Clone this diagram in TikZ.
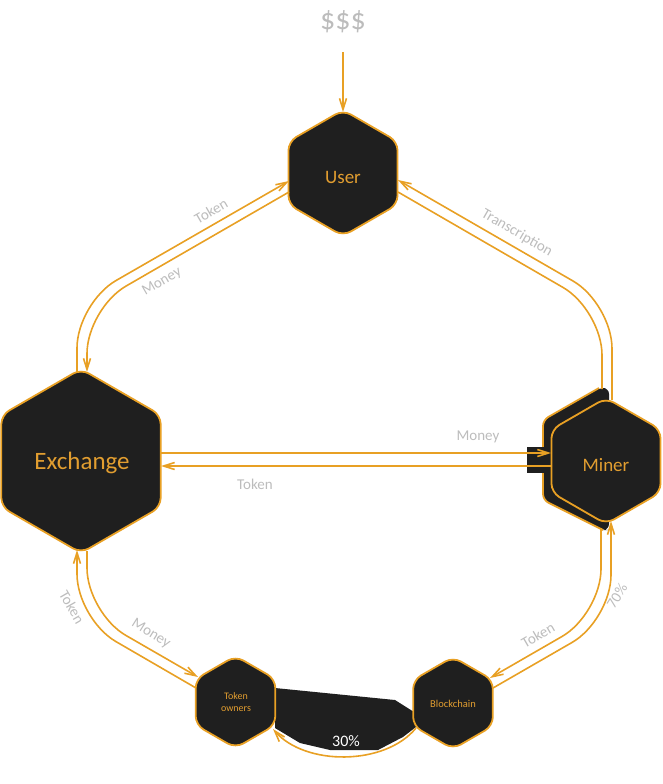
\documentclass[tikz,border=0pt]{standalone}
\usepackage{fontspec}
\setmainfont{Carlito}
\usetikzlibrary{arrows.meta,calc}
\definecolor{org}{RGB}{232,160,36}
\definecolor{hexfill}{RGB}{31,31,31}
\definecolor{hextext}{RGB}{226,158,48}
\definecolor{lbl}{RGB}{188,188,188}
\tikzset{
 hexshape/.style={draw=org, line width=1.8pt, fill=hexfill, rounded corners=9pt},
 hextxt/.style={text=hextext, inner sep=0pt, align=center},
 conn/.style={draw=org, line width=1.6pt, rounded corners=45pt},
 arr/.style={-{Straight Barb[length=11pt,width=7pt]}},
 lab/.style={text=lbl, font=\fontsize{15}{15}\selectfont, inner sep=0pt},
}
\newcommand\drawhex[3]{\path[hexshape] ({#1+#3*0.866},#2) -- ({#1+#3*0.866},{#2-#3/2}) -- (#1,{#2-#3}) -- ({#1-#3*0.866},{#2-#3/2}) -- ({#1-#3*0.866},{#2+#3/2}) -- (#1,{#2+#3}) -- ({#1+#3*0.866},{#2+#3/2}) -- cycle;}
\begin{document}
\begin{tikzpicture}[x=1pt,y=-1pt]
\useasboundingbox (0,0) rectangle (662,784);

% back shape of miner
\fill[hexfill, rounded corners=6pt] (609,388) -- (599,388) -- (543,420) -- (543,500) -- (603,530) -- (609,530) -- cycle;
\draw[org, line width=1.8pt, rounded corners=6pt] (599,388) -- (543,420) -- (543,500) -- (603,530);
\fill[hexfill] (527,447) rectangle (546,473);

% black band between token owners and blockchain
\fill[hexfill] (275,688) -- (395,700) -- (414,712) -- (416,727) -- (403,737) -- (378,750) -- (330,750) -- (300,743) -- (275,728) -- cycle;

% hexagons
\drawhex{343}{173}{63}
\node[hextxt, font=\fontsize{19}{19}\selectfont] (user) at (343,177) {User};
\drawhex{81}{461}{92}
\node[hextxt, font=\fontsize{25}{25}\selectfont] (exchange) at (82,463) {Exchange};
\drawhex{606}{461}{63}
\node[hextxt, font=\fontsize{19}{19}\selectfont] (miner) at (606,465) {Miner};
\drawhex{235.5}{702}{46}
\node[hextxt, font=\fontsize{10}{12}\selectfont] (owners) at (236,702) {Token\\owners};
\drawhex{453}{703}{46}
\node[hextxt, font=\fontsize{10.5}{12}\selectfont] (chain) at (453,704) {Blockchain};

\node[hextxt, text=white, font=\fontsize{16}{16}\selectfont] (pct30) at (346,741) {30\%};

% money source
\node[lab, font=\fontsize{30}{30}\selectfont] (dollars) at (343,22) {\$\$\$};
\coordinate (dolB) at (343,52);
\coordinate (userT) at (343,112);
\draw[conn, arr] (dolB) -- (userT);

% User - Exchange
\draw[conn, arr] (77,372) -- (77,303) -- (289,181);
\draw[conn, arr] (289,192) -- (87,308.6) -- (87,372);
\node[lab, rotate=30] (lTok1) at (211,211) {Token};
\node[lab, rotate=30] (lMon1) at (162,282) {Money};

% User - Miner
\draw[conn, arr] (612,400) -- (612,303.5) -- (398,180);
\draw[conn] (398,192) -- (602,310) -- (602,389);
\node[lab, rotate=-30] (lTrans) at (517,233) {Transcription};

% Exchange - Miner
\draw[conn, arr] (161,453) -- (551,453);
\draw[conn, arr] (551,466) -- (161,466);
\node[lab] (lMon2) at (478,437) {Money};
\node[lab] (lTok2) at (255,484) {Token};

% Exchange - Token owners
\draw[conn, arr] (87,551) -- (87,613) -- (198,677);
\draw[conn, arr] (196,688) -- (77,619) -- (77,550);
\node[lab, rotate=-60] (lTok3) at (72,607) {Token};
\node[lab, rotate=-32] (lMon3) at (151,634) {Money};

% Miner - Blockchain
\draw[conn, arr] (601,528) -- (601,614) -- (490,678);
\draw[conn, arr] (493,688) -- (611,620) -- (611,521);
\node[lab, rotate=30] (lTok4) at (538,635) {Token};
\node[lab, rotate=58] (l70) at (617,596) {70\%};

% Blockchain - Token owners
\draw[org, line width=1.6pt, arr] (416,728) .. controls (385,766) and (305,766) .. (273,729);
\end{tikzpicture}
\end{document}
